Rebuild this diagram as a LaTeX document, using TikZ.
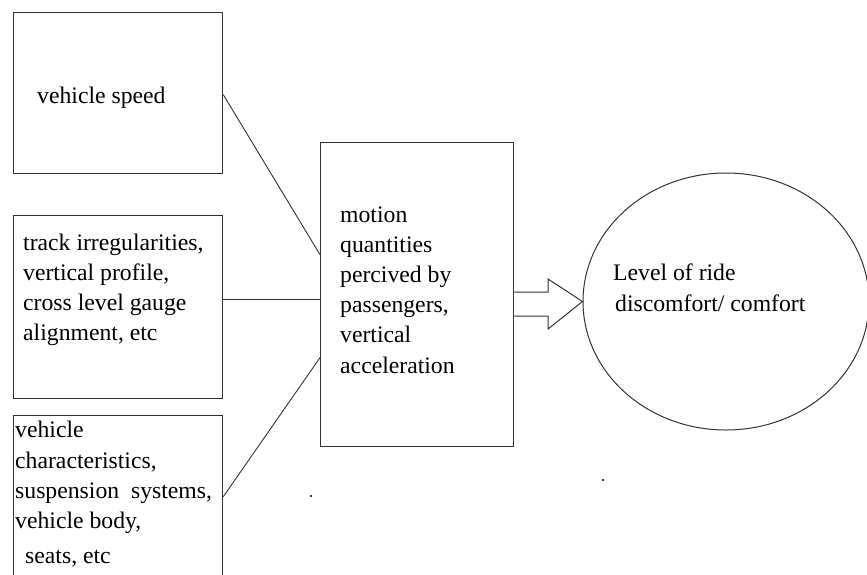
\documentclass[tikz,border=0pt]{standalone}
\usepackage{fontspec}
\setmainfont{Liberation Serif}
\usetikzlibrary{calc,shapes.geometric}
\definecolor{ink}{HTML}{333333}
\begin{document}
\begin{tikzpicture}[x=1pt,y=-1pt,
  box/.style={draw=ink,line width=1.3pt,rectangle,inner sep=0pt,anchor=north west},
  lbl/.style={anchor=base west,inner sep=0pt,font=\fontsize{23.7}{30}\selectfont,text=black},
  conn/.style={draw=ink,line width=0.9pt},
  dotmark/.style={fill=black,circle,inner sep=0pt,minimum size=2.4pt}]
\useasboundingbox[fill=white] (0,0) rectangle (867,574);
% boxes
\node[box,minimum width=209pt,minimum height=161pt] (b1) at (13,12) {};
\node[box,minimum width=209pt,minimum height=183pt] (b2) at (13,215) {};
\node[box,minimum width=209pt,minimum height=180pt] (b3) at (13,415) {};
\node[box,minimum width=193pt,minimum height=304pt] (mid) at (320,142) {};
\node[draw=ink,line width=1pt,ellipse,minimum width=286pt,minimum height=257pt,inner sep=0pt] (ell) at (726,301.5) {};
% texts
\node[lbl] (t1) at (37,103) {vehicle speed};
\node[lbl] (t2a) at (23,250) {track irregularities,};
\node[lbl] (t2b) at (23,280) {vertical profile,};
\node[lbl] (t2c) at (23,310) {cross level gauge};
\node[lbl] (t2d) at (23,340) {alignment, etc};
\node[lbl] (t3a) at (15,437) {vehicle};
\node[lbl] (t3b) at (15,468) {characteristics,};
\node[lbl] (t3c) at (15,498) {suspension\ \ systems,};
\node[lbl] (t3d) at (15,528) {vehicle body,};
\node[lbl] (t3e) at (25,563) {seats, etc};
\node[lbl] (m1) at (340,222) {motion};
\node[lbl] (m2) at (340,252) {quantities};
\node[lbl] (m3) at (340,282) {percived by};
\node[lbl] (m4) at (340,312) {passengers,};
\node[lbl] (m5) at (340,342) {vertical};
\node[lbl] (m6) at (340,373) {acceleration};
\node[lbl] (e1) at (613,280) {Level of ride};
\node[lbl] (e2) at (615,311) {discomfort/ comfort};
% connectors
\draw[conn] ([yshift=-1.5pt]b1.east) -- ([yshift=40pt]mid.west);
\draw[conn] ([yshift=7.5pt]b2.east) -- ([yshift=-5pt]mid.west);
\draw[conn] ([yshift=9pt]b3.east) -- ([yshift=-63pt]mid.west);
% hollow block arrow
\draw[conn,line width=1pt,line join=miter] (mid.east |- 0,292) -- (548,292) -- (548,279) -- (ell.west) -- (548,329) -- (548,316) -- (mid.east |- 0,316);
% stray dots
\node[dotmark] (d1) at (311,496) {};
\node[dotmark] (d2) at (603,480) {};
\end{tikzpicture}
\end{document}
